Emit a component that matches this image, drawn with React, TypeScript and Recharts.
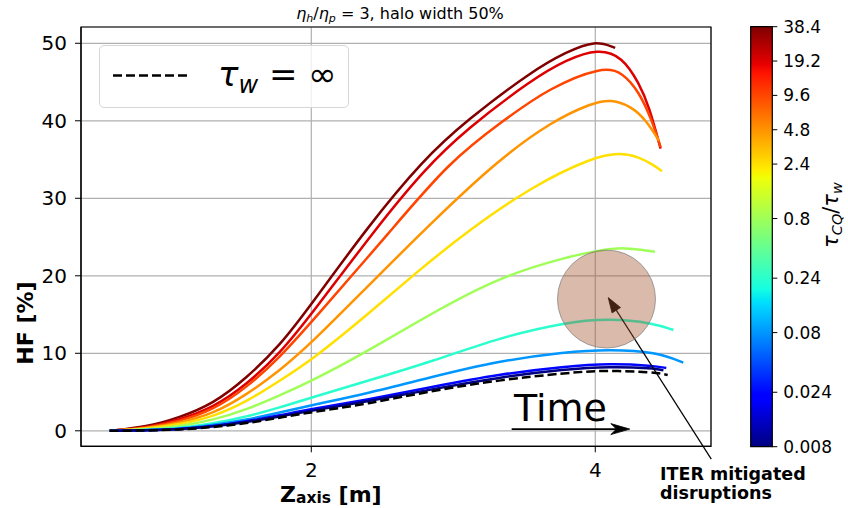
import React from "react";
import {
  LineChart,
  ComposedChart,
  Line,
  XAxis,
  YAxis,
  CartesianGrid,
  ReferenceDot,
  ReferenceLine,
  ReferenceArea,
  Legend,
} from "recharts";

const FONT = "'DejaVu Sans', sans-serif";

// ---- axes ----
const xTicks = [2, 4];
const yTicks = [0, 10, 20, 30, 40, 50];
const xDomain = [0.378, 4.815];
const yDomain = [-2.0, 52.1];

// ---- colorbar (tau_CQ / tau_w) ----
const cbTicks = [0.008, 0.024, 0.08, 0.24, 0.8, 2.4, 4.8, 9.6, 19.2, 38.4];
const cbTickLabels = ["0.008", "0.024", "0.08", "0.24", "0.8", "2.4", "4.8", "9.6", "19.2", "38.4"];
const cbDomain = [0.008, 38.4];

// ---- series (one per tau_CQ/tau_w) ----
const xTau384 = [0.58, 0.84, 1.07, 1.31, 1.54, 1.78, 2.0, 2.4, 2.79, 3.09, 3.56, 3.8, 4.0, 4.14];
const yTau384 = [0, 0.5, 1.7, 3.5, 6.75, 11.0, 16.3, 26.4, 35.0, 40.0, 46.5, 48.9, 50.4, 49.4];

const xTau192 = [0.58, 0.84, 1.07, 1.31, 1.54, 1.78, 2.0, 2.45, 2.79, 3.09, 3.56, 3.8, 4.02, 4.19, 4.31, 4.38, 4.46];
const yTau192 = [0, 0.4, 1.4, 3.0, 5.9, 10.0, 15.0, 26.0, 33.6, 38.9, 45.4, 47.9, 49.3, 48.3, 44.8, 41.8, 36.4];

const xTau96 = [0.58, 0.84, 1.07, 1.31, 1.54, 1.78, 2.0, 2.56, 2.97, 3.35, 3.68, 4.05, 4.19, 4.31, 4.4, 4.46];
const yTau96 = [0, 0.35, 1.2, 2.7, 5.5, 9.5, 14.0, 25.8, 34.7, 40.0, 44.3, 47.0, 46.3, 43.7, 40.0, 36.6];

const xTau48 = [0.58, 0.84, 1.07, 1.31, 1.54, 1.78, 2.0, 2.39, 2.86, 3.32, 3.7, 3.98, 4.11, 4.26, 4.36, 4.45];
const yTau48 = [0, 0.3, 1.0, 2.2, 4.6, 7.8, 11.3, 18.5, 27.1, 35.0, 40.0, 42.3, 42.8, 41.8, 40.0, 37.4];

const xTau24 = [0.58, 0.84, 1.07, 1.31, 1.54, 1.78, 2.0, 2.39, 2.75, 3.11, 3.56, 3.98, 4.18, 4.31, 4.4, 4.47];
const yTau24 = [0, 0.25, 0.8, 1.8, 3.7, 6.5, 9.1, 14.9, 20.6, 25.9, 31.6, 35.3, 35.9, 35.3, 34.4, 33.5];

const xTau08 = [0.58, 0.84, 1.07, 1.31, 1.54, 1.78, 2.0, 2.39, 2.86, 3.32, 3.79, 4.03, 4.2, 4.42];
const yTau08 = [0, 0.15, 0.55, 1.4, 2.7, 4.6, 6.4, 10.2, 15.3, 19.8, 22.4, 23.3, 23.7, 23.1];

const xTau024 = [0.58, 0.84, 1.07, 1.31, 1.54, 1.78, 2.0, 2.39, 2.86, 3.32, 3.79, 4.1, 4.41, 4.55];
const yTau024 = [0, 0.1, 0.35, 0.95, 1.8, 3.0, 4.3, 6.4, 9.0, 12.0, 14.0, 14.5, 13.9, 13.0];

const xTau008 = [0.58, 0.84, 1.07, 1.31, 1.54, 1.78, 2.0, 2.39, 2.86, 3.32, 3.79, 4.1, 4.43, 4.62];
const yTau008 = [0, 0.08, 0.25, 0.75, 1.4, 2.35, 3.3, 4.8, 7.0, 9.0, 10.2, 10.5, 10.2, 8.8];

const xTau0024 = [0.58, 0.84, 1.07, 1.31, 1.54, 1.78, 2.0, 2.39, 2.86, 3.32, 3.79, 4.1, 4.41, 4.5];
const yTau0024 = [0, 0.05, 0.2, 0.6, 1.2, 2.0, 2.8, 4.0, 5.7, 7.3, 8.3, 8.7, 8.4, 8.1];

const xTau0008 = [0.58, 0.84, 1.07, 1.31, 1.54, 1.78, 2.0, 2.39, 2.86, 3.32, 3.79, 4.1, 4.41, 4.48];
const yTau0008 = [0, 0.05, 0.2, 0.55, 1.1, 1.85, 2.6, 3.75, 5.4, 6.9, 7.95, 8.3, 8.1, 7.8];

// tau_w = infinity (dashed)
const xInf = [0.58, 0.84, 1.07, 1.31, 1.54, 1.78, 2.0, 2.39, 2.86, 3.32, 3.79, 4.03, 4.41, 4.51];
const yInf = [0, 0.03, 0.15, 0.45, 0.95, 1.7, 2.4, 3.45, 5.2, 6.55, 7.45, 7.8, 7.6, 7.2];

const curves = [
  { tau: 38.4, xs: xTau384, ys: yTau384 },
  { tau: 19.2, xs: xTau192, ys: yTau192 },
  { tau: 9.6, xs: xTau96, ys: yTau96 },
  { tau: 4.8, xs: xTau48, ys: yTau48 },
  { tau: 2.4, xs: xTau24, ys: yTau24 },
  { tau: 0.8, xs: xTau08, ys: yTau08 },
  { tau: 0.24, xs: xTau024, ys: yTau024 },
  { tau: 0.08, xs: xTau008, ys: yTau008 },
  { tau: 0.024, xs: xTau0024, ys: yTau0024 },
  { tau: 0.008, xs: xTau0008, ys: yTau0008 },
];

// ---- annotations (data coordinates) ----
const iterRegion = { x: 4.079, y: 17.0 };
const iterArrowFrom = { x: 4.817, y: -3.65 };
const iterArrowTo = { x: 4.091, y: 17.19 };
const timeArrowFrom = { x: 3.411, y: 0.22 };
const timeArrowTo = { x: 4.243, y: 0.22 };

// ---- jet colormap ----
const JR = [[0, 0], [0.35, 0], [0.66, 1], [0.89, 1], [1, 0.5]];
const JG = [[0, 0], [0.125, 0], [0.375, 1], [0.64, 1], [0.91, 0], [1, 0]];
const JB = [[0, 0.5], [0.11, 1], [0.34, 1], [0.65, 0], [1, 0]];
function seg(pts: number[][], t: number) {
  for (let i = 0; i < pts.length - 1; i++) {
    const [a, va] = pts[i];
    const [b, vb] = pts[i + 1];
    if (t >= a && t <= b) return b === a ? vb : va + ((t - a) / (b - a)) * (vb - va);
  }
  return pts[pts.length - 1][1];
}
function jet(t: number) {
  const c = (v: number) => Math.round(Math.max(0, Math.min(1, v)) * 255);
  return `rgb(${c(seg(JR, t))},${c(seg(JG, t))},${c(seg(JB, t))})`;
}
const norm = (v: number) => Math.log(v / cbDomain[0]) / Math.log(cbDomain[1] / cbDomain[0]);
const gradStops = [0, 0.05, 0.11, 0.125, 0.2, 0.25, 0.34, 0.35, 0.375, 0.45, 0.5, 0.55, 0.64, 0.65, 0.66, 0.75, 0.8, 0.89, 0.91, 0.95, 1];

const toData = (xs: number[], ys: number[]) => xs.map((x, i) => ({ x, y: ys[i] }));

const ArrowShape = (notch: boolean, headLen: number, headW: number, sw: number) => (props: any) => {
  const { x1, y1, x2, y2 } = props;
  if ([x1, y1, x2, y2].some((v) => typeof v !== "number" || isNaN(v))) return <g />;
  const dx = x2 - x1;
  const dy = y2 - y1;
  const L = Math.sqrt(dx * dx + dy * dy);
  const ux = dx / L;
  const uy = dy / L;
  const px = -uy;
  const py = ux;
  const bx = x2 - ux * headLen;
  const by = y2 - uy * headLen;
  const nx = x2 - ux * headLen * 0.7;
  const ny = y2 - uy * headLen * 0.7;
  const pts = notch
    ? `${x2},${y2} ${bx + px * headW},${by + py * headW} ${nx},${ny} ${bx - px * headW},${by - py * headW}`
    : `${x2},${y2} ${bx + px * headW},${by + py * headW} ${bx - px * headW},${by - py * headW}`;
  return (
    <g>
      <line x1={x1} y1={y1} x2={nx} y2={ny} stroke="#000" strokeWidth={sw} />
      <polygon points={pts} fill="#000" stroke="#000" strokeWidth={0.8} />
    </g>
  );
};

const LegendBox = () => (
  <div
    style={{
      width: 250,
      height: 63,
      boxSizing: "border-box",
      border: "1.3px solid #d6d6d6",
      borderRadius: 5,
      background: "rgba(255,255,255,0.8)",
    }}
  >
    <svg width={250} height={63} style={{ display: "block" }}>
      <line x1={13} y1={29.5} x2={88} y2={29.5} stroke="#000" strokeWidth={2.5} strokeDasharray="9 4" />
      <text x={118} y={40} fontFamily={FONT} fontSize={34} fill="#000">
        <tspan fontStyle="italic">τ</tspan>
        <tspan fontStyle="italic" fontSize={24} dy={7}>w</tspan>
        <tspan dy={-7}>{" = ∞"}</tspan>
      </text>
    </svg>
  </div>
);

export default function App() {
  const tickStyle = { fill: "#000", fontSize: 20, fontFamily: FONT };
  return (
    <div style={{ position: "absolute", left: 0, top: 0, width: 848, height: 508, background: "#fff", fontFamily: FONT }}>
      {/* colorbar */}
      <div style={{ position: "absolute", left: 0, top: 0 }}>
        <ComposedChart
          width={848}
          height={508}
          data={[{ x: 0, v: 1 }, { x: 1, v: 1 }]}
          margin={{ top: 26.7, bottom: 61.3, left: 750.7, right: 848 - 772.3 - 70 }}
        >
          <defs>
            <linearGradient id="jetGrad" x1="0" y1="1" x2="0" y2="0">
              {gradStops.map((t) => (
                <stop key={t} offset={t} stopColor={jet(t)} />
              ))}
            </linearGradient>
          </defs>
          <XAxis type="number" dataKey="x" domain={[0, 1]} hide />
          <YAxis
            orientation="right"
            scale="log"
            domain={cbDomain}
            ticks={cbTicks}
            interval={0}
            allowDataOverflow
            width={70}
            tickSize={5}
            tickMargin={6}
            tick={{ fill: "#000", fontSize: 17, fontFamily: FONT }}
            tickLine={{ stroke: "#000" }}
            axisLine={false}
            tickFormatter={(v: number) => cbTickLabels[cbTicks.indexOf(v)] ?? String(v)}
          />
          <Line dataKey="v" stroke="none" dot={false} isAnimationActive={false} />
          <ReferenceArea
            x1={0}
            x2={1}
            y1={cbDomain[0]}
            y2={cbDomain[1]}
            fill="url(#jetGrad)"
            fillOpacity={1}
            stroke="#000"
            strokeWidth={1.2}
            ifOverflow="visible"
          />
        </ComposedChart>
      </div>

      {/* main chart */}
      <div style={{ position: "absolute", left: 0, top: 0 }}>
        <LineChart width={848} height={508} margin={{ top: 27, right: 137, bottom: 31.7, left: 0 }}>
          <CartesianGrid stroke="#b0b0b0" strokeWidth={1.2} />
          <XAxis
            type="number"
            dataKey="x"
            domain={xDomain}
            ticks={xTicks}
            interval={0}
            allowDataOverflow
            height={30}
            tick={tickStyle}
            tickLine={{ stroke: "#000" }}
            axisLine={{ stroke: "#000" }}
            tickSize={6}
            tickMargin={10}
          />
          <YAxis
            type="number"
            domain={yDomain}
            ticks={yTicks}
            interval={0}
            allowDataOverflow
            width={81}
            tick={tickStyle}
            tickLine={{ stroke: "#000" }}
            axisLine={{ stroke: "#000" }}
            tickSize={6}
            tickMargin={8}
          />
          {curves.map((c) => (
            <Line
              key={c.tau}
              data={toData(c.xs, c.ys)}
              dataKey="y"
              type="basis"
              stroke={jet(norm(c.tau))}
              strokeWidth={2.5}
              dot={false}
              isAnimationActive={false}
            />
          ))}
          <Line
            data={toData(xInf, yInf)}
            dataKey="y"
            name="tau_w = inf"
            type="basis"
            stroke="#000"
            strokeWidth={2.5}
            strokeDasharray="9 4"
            dot={false}
            isAnimationActive={false}
          />
          <ReferenceArea
            x1={xDomain[0]}
            x2={xDomain[1]}
            y1={yDomain[0]}
            y2={yDomain[1]}
            fill="none"
            fillOpacity={0}
            stroke="#000"
            strokeWidth={1.2}
            ifOverflow="visible"
          />
          <ReferenceDot
            x={iterRegion.x}
            y={iterRegion.y}
            r={49}
            fill="#a0522d"
            fillOpacity={0.4}
            stroke="#808080"
            strokeOpacity={0.7}
            strokeWidth={1}
            ifOverflow="visible"
          />
          <ReferenceLine
            segment={[iterArrowFrom, iterArrowTo]}
            ifOverflow="visible"
            shape={ArrowShape(false, 15, 5, 1.2)}
          />
          <ReferenceLine
            segment={[timeArrowFrom, timeArrowTo]}
            ifOverflow="visible"
            shape={ArrowShape(true, 19, 5.5, 1.6)}
          />
          <Legend
            layout="horizontal"
            verticalAlign="middle"
            align="center"
            content={() => <LegendBox />}
            wrapperStyle={{ left: 99, top: 45, width: 250, height: 63 }}
          />
        </LineChart>
      </div>

      {/* texts */}
      <svg
        width={848}
        height={508}
        style={{ position: "absolute", left: 0, top: 0, pointerEvents: "none" }}
        fontFamily={FONT}
      >
        <text x={400} y={19} textAnchor="middle" fontSize={16} fill="#000">
          <tspan fontStyle="italic">η</tspan>
          <tspan fontStyle="italic" fontSize={11} dy={3}>h</tspan>
          <tspan dy={-3}>/</tspan>
          <tspan fontStyle="italic">η</tspan>
          <tspan fontStyle="italic" fontSize={11} dy={3}>p</tspan>
          <tspan dy={-3}>{" = 3, halo width 50%"}</tspan>
        </text>
        <text transform="translate(33,323) rotate(-90)" textAnchor="middle" fontSize={22} fontWeight="bold" fill="#000">
          HF [%]
        </text>
        <text x={280} y={502} fontSize={22} fontWeight="bold" fill="#000">
          Z<tspan fontSize={15.5} dy={1}>axis</tspan>
          <tspan dy={-1}>{" [m]"}</tspan>
        </text>
        <text x={514} y={420.7} fontSize={38} fill="#000">
          Time
        </text>
        <text x={660} y={480} fontSize={17.5} fontWeight="bold" fill="#000">
          ITER mitigated
        </text>
        <text x={660} y={499} fontSize={17.5} fontWeight="bold" fill="#000">
          disruptions
        </text>
        <text transform="translate(838,215) rotate(-90)" textAnchor="middle" fontSize={21} fill="#000">
          <tspan fontStyle="italic">τ</tspan>
          <tspan fontStyle="italic" fontSize={14.5} dy={4}>CQ</tspan>
          <tspan dy={-4}>/</tspan>
          <tspan fontStyle="italic">τ</tspan>
          <tspan fontStyle="italic" fontSize={14.5} dy={4}>w</tspan>
        </text>
      </svg>
    </div>
  );
}
